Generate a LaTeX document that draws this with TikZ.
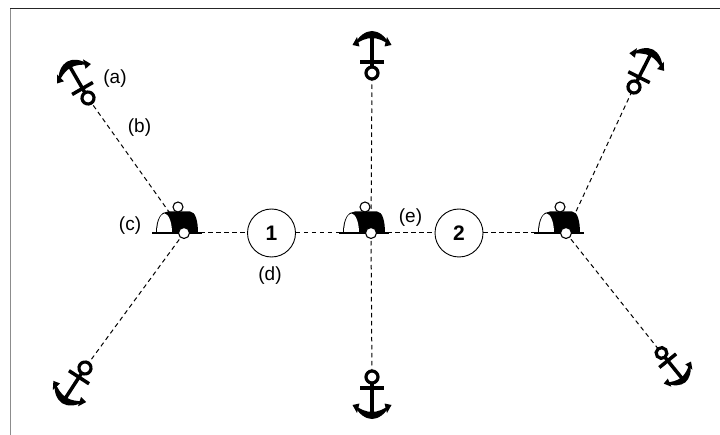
\documentclass[tikz,border=0pt]{standalone}
\usepackage{fontspec}
\setmainfont{Liberation Sans}
\definecolor{framegray}{gray}{0.55}
\tikzset{
  x=1pt,y=-1pt,
  moor/.style={dashed,dash pattern=on 4.5pt off 3.5pt,line width=1pt},
  lbl/.style={font=\fontsize{19}{21}\selectfont,inner sep=0pt},
  num/.style={circle,draw,line width=0.9pt,fill=white,minimum size=48pt,inner sep=0pt,font=\fontsize{21}{23}\bfseries\selectfont},
  pics/anchorsym/.style={code={
    % drawn pointing downward in local coords, origin at ring centre
    \draw[line width=3.5pt] (0,6) -- (0,39);
    \draw[line width=3.5pt] (-12,11) -- (12,11);
    \draw[line width=3.2pt,fill=white] (0,0) circle (6);
    \fill (-17,28.5) .. controls (-14,37) and (-6,42) .. (0,42)
      .. controls (6,42) and (14,37) .. (17,28.5)
      .. controls (12,32) and (6,35) .. (0,35)
      .. controls (-6,35) and (-12,32) .. (-17,28.5) -- cycle;
    \fill (-19.5,28) -- (-12.5,26.5) -- (-15,36) -- cycle;
    \fill (19.5,28) -- (12.5,26.5) -- (15,36) -- cycle;
  }},
  pics/buoysym/.style={code={
    % origin at the white lower circle
    \fill (-28,0) .. controls (-28,-14) and (-23,-21.5) .. (-16,-21.5)
      -- (6,-21.5) .. controls (11.5,-21.5) and (14,-12) .. (14,0) -- cycle;
    \fill[white] (-27,0) .. controls (-27,-12) and (-23,-19.5) .. (-19.5,-19.5)
      .. controls (-16,-19.5) and (-12,-12) .. (-12,0) -- cycle;
    \draw[line width=1.4pt] (-32,0) -- (18,0);
    \draw[line width=1.1pt,fill=white] (-6,-26) circle (5);
    \draw[line width=1.1pt,fill=white] (0,0) circle (5.5);
  }},
}
\begin{document}
\begin{tikzpicture}
\useasboundingbox (0,0) rectangle (720,435);
\fill[white] (0,0) rectangle (720,435);
\draw[framegray,line width=1.5pt] (10.7,8.5) -- (10.7,435);
\draw[black!85,line width=1.2pt] (10,8.4) -- (720,8.4);

\coordinate (b1) at (184,233);
\coordinate (b2) at (371,233);
\coordinate (b3) at (566,233);
\coordinate (a1) at (88,98);
\coordinate (a2) at (372,73);
\coordinate (a3) at (634,87);
\coordinate (a4) at (661.5,353);
\coordinate (a5) at (372,377);
\coordinate (a6) at (85,368);
\node[num] (n1) at (271.5,233) {1};
\node[num] (n2) at (459,233) {2};

\draw[moor] (b1) -- (a1);
\draw[moor] (b1) -- (a6);
\draw[moor] (b2) -- (a2);
\draw[moor] (b2) -- (a5);
\draw[moor] (b3) -- (a3);
\draw[moor] (b3) -- (a4);
\draw[moor] (b1) -- (n1);
\draw[moor] (n1) -- (b2);
\draw[moor] (b2) -- (n2);
\draw[moor] (n2) -- (b3);

\pic at (b1) {buoysym};
\pic at (b2) {buoysym};
\pic at (b3) {buoysym};

\pic[rotate=-150] at (a1) {anchorsym};
\pic[rotate=180] at (a2) {anchorsym};
\pic[rotate=153] at (a3) {anchorsym};
\pic[rotate=39,scale=0.9] at (a4) {anchorsym};
\pic[rotate=0] at (a5) {anchorsym};
\pic[rotate=-33] at (a6) {anchorsym};

\node[lbl] (la) at (115,79) {(a)};
\node[lbl] (lb) at (139.5,128) {(b)};
\node[lbl] (lc) at (130,226) {(c)};
\node[lbl] (ld) at (270,276) {(d)};
\node[lbl] (le) at (410.5,218) {(e)};
\end{tikzpicture}
\end{document}
